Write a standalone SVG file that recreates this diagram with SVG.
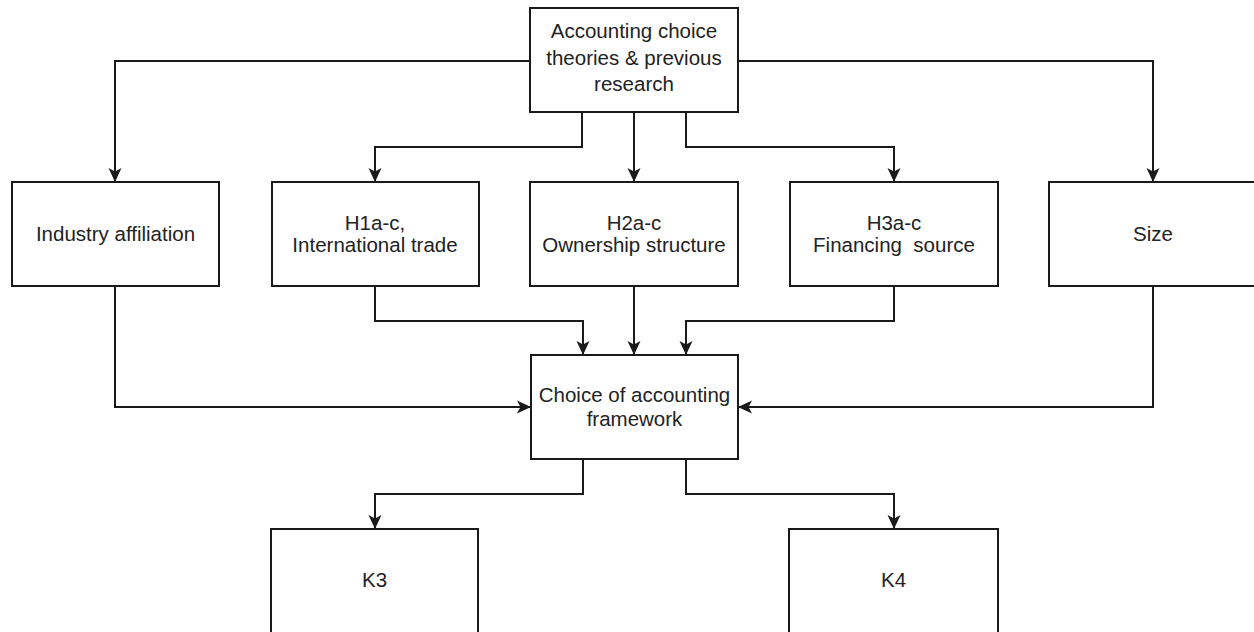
<svg xmlns="http://www.w3.org/2000/svg" width="1254" height="632" viewBox="0 0 1254 632">
<style>
.box{fill:#fff;stroke:#1a1a1a;stroke-width:2}
.lbl{font-family:"Liberation Sans",Arial,sans-serif;font-size:20.5px;fill:#222;text-anchor:middle}
.con{fill:none;stroke:#1a1a1a;stroke-width:2;marker-end:url(#arr)}
</style>
<defs>
<marker id="arr" viewBox="0 0 14 14" refX="14" refY="7" markerWidth="14" markerHeight="14" markerUnits="userSpaceOnUse" orient="auto">
<path d="M0,0.5 L14,7 L0,13.5 L3.5,7 z" fill="#1a1a1a"/>
</marker>
</defs>
<rect width="1254" height="632" fill="#fff"/>
<g id="connectors">
<path class="con" d="M530,61 H115 V182"/>
<path class="con" d="M738,61 H1153 V182"/>
<path class="con" d="M582,112 V147 H375 V182"/>
<path class="con" d="M634,112 V182"/>
<path class="con" d="M686,112 V147 H894 V182"/>
<path class="con" d="M375,286 V321 H583 V355"/>
<path class="con" d="M634,286 V355"/>
<path class="con" d="M894,286 V321 H686 V355"/>
<path class="con" d="M115,286 V407 H531"/>
<path class="con" d="M1153,286 V407 H738"/>
<path class="con" d="M583,459 V494 H375 V529"/>
<path class="con" d="M686,459 V494 H894 V529"/>
</g>
<g id="theories">
<rect class="box" x="530" y="8" width="208" height="104"/>
<text class="lbl" x="634" y="38">Accounting choice</text>
<text class="lbl" x="634" y="65">theories &amp; previous</text>
<text class="lbl" x="634" y="91">research</text>
</g>
<g id="industry">
<rect class="box" x="12" y="182" width="207" height="104"/>
<text class="lbl" x="115.5" y="241">Industry affiliation</text>
</g>
<g id="h1">
<rect class="box" x="272" y="182" width="207" height="104"/>
<text class="lbl" x="375" y="230">H1a-c,</text>
<text class="lbl" x="375" y="252">International trade</text>
</g>
<g id="h2">
<rect class="box" x="530" y="182" width="208" height="104"/>
<text class="lbl" x="634" y="230">H2a-c</text>
<text class="lbl" x="634" y="252">Ownership structure</text>
</g>
<g id="h3">
<rect class="box" x="790" y="182" width="208" height="104"/>
<text class="lbl" x="894" y="230">H3a-c</text>
<text class="lbl" x="894" y="252" xml:space="preserve">Financing  source</text>
</g>
<g id="size">
<rect class="box" x="1049" y="182" width="208" height="104"/>
<text class="lbl" x="1153" y="241">Size</text>
</g>
<g id="choice">
<rect class="box" x="531" y="355" width="207" height="104"/>
<text class="lbl" x="634.5" y="402">Choice of accounting</text>
<text class="lbl" x="634.5" y="426">framework</text>
</g>
<g id="k3">
<rect class="box" x="271" y="529" width="207" height="110"/>
<text class="lbl" x="374.5" y="587">K3</text>
</g>
<g id="k4">
<rect class="box" x="789" y="529" width="209" height="110"/>
<text class="lbl" x="893.5" y="587">K4</text>
</g>
</svg>
